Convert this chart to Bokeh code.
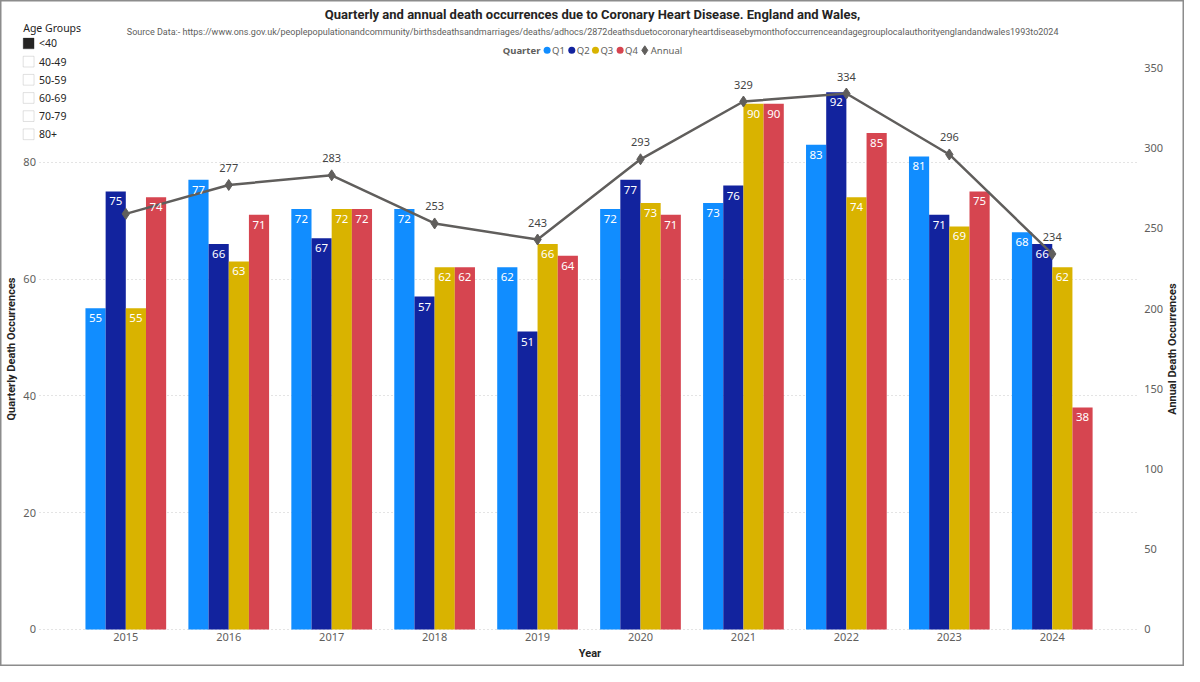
import math
from bokeh.plotting import figure
from bokeh.models import (ColumnDataSource, Range1d, LinearAxis, FixedTicker,
                          LabelSet, Label, BoxAnnotation)
from bokeh.core.properties import value
from bokeh.transform import dodge
from bokeh.embed import file_html
from bokeh.resources import INLINE

# ---------------- data ----------------
years = [2015, 2016, 2017, 2018, 2019, 2020, 2021, 2022, 2023, 2024]
q1 = [55, 77, 72, 72, 62, 72, 73, 83, 81, 68]
q2 = [75, 66, 67, 57, 51, 77, 76, 92, 71, 66]
q3 = [55, 63, 72, 62, 66, 73, 90, 74, 69, 62]
q4 = [74, 71, 72, 62, 64, 71, 90, 85, 75, 38]
annual = [259, 277, 283, 253, 243, 293, 329, 334, 296, 234]
quarter_names = ["Q1", "Q2", "Q3", "Q4"]
quarter_colors = ["#118DFF", "#12239E", "#D9B300", "#D64550"]
age_groups = ["<40", "40-49", "50-59", "60-69", "70-79", "80+"]
left_ticks = [0, 20, 40, 60, 80]
right_ticks = [0, 50, 100, 150, 200, 250, 300, 350]

TITLE = "Quarterly and annual death occurrences due to Coronary Heart Disease. England and Wales,"
SUBTITLE = ("Source Data:- https://www.ons.gov.uk/peoplepopulationandcommunity/birthsdeathsandmarriages/"
            "deaths/adhocs/2872deathsduetocoronaryheartdiseasebymonthofoccurrenceandagegrouplocalauthorityenglandandwales1993to2024")

# ---------------- layout helpers (reference pixel -> data) ----------------
REF_W, REF_H = 1200, 682                # reference picture size
X_REF, PX_YEAR = 127.0, 104.33          # ref x of first year, px per year
BASE, LPX, RPX = 644.0, 5.98, 1.643     # ref y of zero, px per unit (left / right)


def xd(px):
    return years[0] + (px - X_REF) / PX_YEAR


def yd(py):
    return (BASE - py) / LPX


def yr(py):
    return (BASE - py) / RPX


FONT = "Noto Sans"
TFONT = "Roboto"
GREY = "#605E5C"
DARK = "#252423"

src = ColumnDataSource(dict(
    year=years, Q1=q1, Q2=q2, Q3=q3, Q4=q4, annual=annual,
    Q1_t=[str(v) for v in q1], Q2_t=[str(v) for v in q2],
    Q3_t=[str(v) for v in q3], Q4_t=[str(v) for v in q4],
    annual_t=[""] + [str(v) for v in annual[1:]],  # 2015 label hidden in original (overlap)
))

p = figure(width=1184, height=666,
           x_range=Range1d(xd(0), xd(REF_W)),
           y_range=Range1d(yd(REF_H), yd(0)),
           output_backend="svg", toolbar_location=None,
           min_border_left=0, min_border_right=0, min_border_top=0, min_border_bottom=0,
           x_axis_label="Year", y_axis_label="Quarterly Death Occurrences")
p.extra_y_ranges = {"annual": Range1d(yr(REF_H), yr(0))}
p.outline_line_color = "#8c8c8c"
p.outline_line_width = 2
p.background_fill_color = "white"
p.border_fill_color = "white"

# axes fixed at the edges of the plotting area of the original
p.xaxis[0].ticker = FixedTicker(ticks=years)
p.xaxis[0].fixed_location = 0
p.xaxis[0].bounds = (xd(42), xd(1153))
p.yaxis[0].ticker = FixedTicker(ticks=left_ticks)
p.yaxis[0].fixed_location = xd(42)
p.yaxis[0].bounds = (0, 96)

right = LinearAxis(y_range_name="annual", ticker=FixedTicker(ticks=right_ticks))
right.fixed_location = xd(1153)
p.add_layout(right, "right")

for ax in [p.xaxis[0], p.yaxis[0], right]:
    ax.axis_line_color = None
    ax.major_tick_line_color = None
    ax.minor_tick_line_color = None
    ax.major_tick_out = 0
    ax.major_tick_in = 0
    ax.minor_tick_out = 0
    ax.minor_tick_in = 0
    ax.major_label_text_color = GREY
    ax.major_label_text_font = FONT
    ax.major_label_text_font_size = "11px"
    ax.axis_label_text_font = TFONT
    ax.axis_label_text_font_style = "bold"
    ax.axis_label_text_font_size = "11px"
    ax.axis_label_text_color = DARK
p.yaxis[0].major_label_standoff = 6
p.yaxis[0].axis_label_standoff = 2
right.major_label_standoff = 6
p.xaxis[0].major_label_standoff = 4
p.xaxis[0].axis_label_standoff = 2

# grid
p.xgrid.visible = False
p.ygrid.ticker = FixedTicker(ticks=left_ticks)
p.ygrid.grid_line_color = "#c8c8c8"
p.ygrid.grid_line_dash = "1 3"
p.ygrid.grid_line_width = 1
try:
    p.ygrid[0].cross_bounds = (xd(40), xd(1153))
except Exception:
    p.ygrid.visible = False
    p.segment(x0=[xd(40)] * len(left_ticks), x1=[xd(1153)] * len(left_ticks),
              y0=left_ticks, y1=left_ticks, line_color="#c8c8c8", line_dash="1 3")

# right axis title (reads bottom-to-top as in the original)
p.add_layout(Label(x=xd(1188), y=yd(357), text="Annual Death Occurrences", angle=math.pi / 2,
                   text_font=TFONT, text_font_style="bold", text_font_size="11px",
                   text_color=DARK, text_align="center", text_baseline="middle"))

# ---------------- bars ----------------
offsets = [-0.294, -0.098, 0.098, 0.294]
for name, col, off in zip(quarter_names, quarter_colors, offsets):
    xs = dodge("year", off, range=p.x_range)
    p.vbar(x=xs, top=name, width=0.196, source=src, fill_color=col, line_color=None)
    p.add_layout(LabelSet(x=xs, y=name, text=name + "_t", source=src,
                          text_align="center", text_baseline="middle", y_offset=-10,
                          text_color="white", text_font=value(FONT), text_font_size="11.5px"))

# ---------------- annual line ----------------
p.line("year", "annual", source=src, y_range_name="annual", line_color=GREY, line_width=2.5)
p.scatter("year", "annual", source=src, y_range_name="annual", marker="diamond",
          size=11, fill_color=GREY, line_color=GREY)
p.add_layout(LabelSet(x="year", y="annual", text="annual_t", source=src, y_range_name="annual",
                      text_align="center", text_baseline="middle", y_offset=17,
                      text_color="#444444", text_font=value(FONT), text_font_size="11px"))

# ---------------- title ----------------
p.add_layout(Label(x=xd(600), y=yd(14), text=TITLE, text_font=TFONT, text_font_style="bold",
                   text_font_size="13px", text_color=DARK, text_align="center", text_baseline="middle"))
p.add_layout(Label(x=xd(128), y=yd(32), text=SUBTITLE, text_font=TFONT,
                   text_font_size="9px", text_color=GREY, text_align="left", text_baseline="middle"))

# ---------------- legend ----------------
p.add_layout(Label(x=xd(509), y=yd(51), text="Quarter", text_font=FONT, text_font_style="bold",
                   text_font_size="9.5px", text_color=GREY, text_align="left", text_baseline="middle"))
leg_px = [554, 579, 603, 628]
p.scatter(x=[xd(v) for v in leg_px], y=[yd(51)] * 4, marker="circle", size=7,
          fill_color=quarter_colors, line_color=None)
for name, v in zip(quarter_names, leg_px):
    p.add_layout(Label(x=xd(v + 5), y=yd(51), text=name, text_font=FONT, text_font_size="9.5px",
                       text_color=GREY, text_align="left", text_baseline="middle"))
p.scatter(x=[xd(653)], y=[yd(51)], marker="diamond", size=9, fill_color=GREY, line_color=GREY)
p.add_layout(Label(x=xd(659), y=yd(51), text="Annual", text_font=FONT, text_font_size="9.5px",
                   text_color=GREY, text_align="left", text_baseline="middle"))

# ---------------- age-group slicer ----------------
p.add_layout(Label(x=xd(23), y=yd(28), text="Age Groups", text_font=FONT, text_font_size="10.5px",
                   text_color=DARK, text_align="left", text_baseline="middle"))
for i, g in enumerate(age_groups):
    cy = 44 + i * 18.6
    p.add_layout(BoxAnnotation(left=xd(23), right=xd(34), top=yd(cy - 5.5), bottom=yd(cy + 5.5),
                               fill_color=DARK if i == 0 else "white", fill_alpha=1.0,
                               line_color="#9a9a9a" if i else DARK, line_width=1))
    p.add_layout(Label(x=xd(39), y=yd(cy), text=g, text_font=FONT, text_font_size="10.5px",
                       text_color=DARK, text_align="left", text_baseline="middle"))

open("out.html", "w").write(file_html(p, INLINE))
